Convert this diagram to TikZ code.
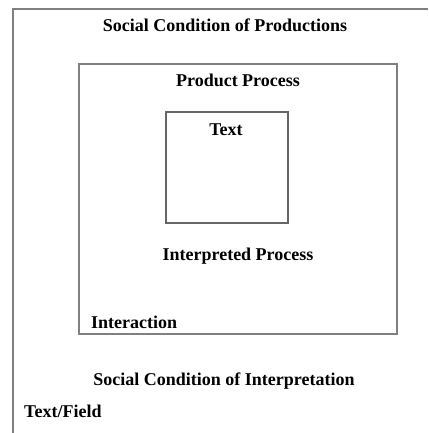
\documentclass[tikz,border=0pt]{standalone}
\usepackage{fontspec}
\setmainfont{Liberation Serif}
\usepackage{xcolor}

\begin{document}
\begin{tikzpicture}[x=1pt,y=-1pt,font=\fontsize{18}{20}\selectfont\bfseries,
    frame/.style={draw=black!50,line width=1.8pt},
    label/.style={anchor=base,inner sep=0pt}]
    \useasboundingbox (0,0) rectangle (428,433);

    % Field of production (runs off the page)
    \draw[frame] (13,433) -- (13,9) -- (428,9);
    \node[label] (prod) at (225,32) {Social Condition of Productions};

    % Interaction box
    \draw[frame] (79,64) rectangle (397,334);
    \node[label] (proc) at (238,87) {Product Process};

    % Text box
    \draw[frame,draw=black!60] (166,112) rectangle (288,223);
    \node[label] (text) at (226,135) {Text};

    \node[label] (interp) at (238,260) {Interpreted Process};
    \node[label,anchor=base west] (inter) at (91,328) {Interaction};

    % Below the interaction box
    \node[label] (cond) at (224,385) {Social Condition of Interpretation};
    \node[label,anchor=base west] (field) at (24,417) {Text/Field};
\end{tikzpicture}
\end{document}
